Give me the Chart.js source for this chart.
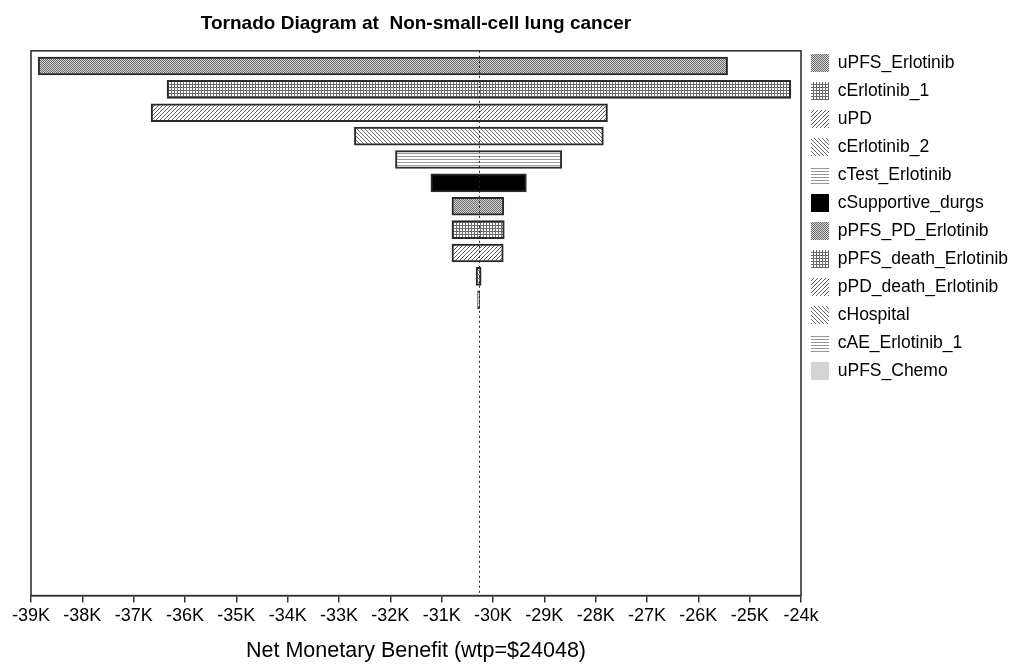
<!DOCTYPE html>
<html>
<head>
<meta charset="utf-8">
<script src="https://cdn.jsdelivr.net/npm/chart.js@4"></script>
<style>
html,body{margin:0;padding:0;background:#fff;}
#wrap{width:1012px;height:664px;}
</style>
</head>
<body>
<div id="wrap"><canvas id="c" width="1012" height="664"></canvas></div>
<script>
// ---- data ----
const categories = ['uPFS_Erlotinib','cErlotinib_1','uPD','cErlotinib_2','cTest_Erlotinib','cSupportive_durgs','pPFS_PD_Erlotinib','pPFS_death_Erlotinib','pPD_death_Erlotinib','cHospital','cAE_Erlotinib_1','uPFS_Chemo'];
const lowValues  = [-38860,-36350,-36660,-32700,-31900,-31210,-30800,-30800,-30800,-30330,-30300,-30280];
const highValues = [-25430,-24200,-27770,-27850,-28660,-29350,-29790,-29780,-29800,-30230,-30262,-30280];
const baseValue = -30280;
const xTickLabels = ['-39K','-38K','-37K','-36K','-35K','-34K','-33K','-32K','-31K','-30K','-29K','-28K','-27K','-26K','-25K','-24k'];
const titleText = 'Tornado Diagram at  Non-small-cell lung cancer';
const xTitleText = 'Net Monetary Benefit (wtp=$24048)';
const patternKinds = ['dots','grid','diagR','diagL','horiz','solidBlack','dots','grid','diagR','diagL','horiz','solidGray'];

// ---- patterns ----
const baseCtx = document.getElementById('c').getContext('2d');
function makePattern(kind){
  if(kind==='solidBlack') return '#000';
  if(kind==='solidGray') return '#d4d4d4';
  const s = (kind==='dots') ? 2 : (kind==='grid' || kind==='horiz') ? 3 : 4;
  const t = document.createElement('canvas');
  t.width = s; t.height = s;
  const g = t.getContext('2d');
  g.fillStyle = '#fff'; g.fillRect(0,0,s,s);
  if(kind==='dots'){
    g.fillStyle='#d6d6d6'; g.fillRect(0,0,s,s);
    g.fillStyle='#6a6a6a';
    g.fillRect(0,0,1,1); g.fillRect(1,1,1,1);
  } else if(kind==='grid'){
    g.fillStyle='#6a6a6a';
    g.fillRect(0,0,s,1); g.fillRect(0,0,1,s);
  } else if(kind==='diagR'){
    g.fillStyle='#5a5a5a';
    for(let i=0;i<s;i++){ g.fillRect(s-1-i,i,1,1); }
  } else if(kind==='diagL'){
    g.fillStyle='#6a6a6a';
    for(let i=0;i<s;i++){ g.fillRect(i,i,1,1); }
  } else if(kind==='horiz'){
    g.fillStyle='#999';
    g.fillRect(0,0,s,1);
  }
  return baseCtx.createPattern(t,'repeat');
}

const datasets = categories.map((name,i)=>({
  label: name,
  data: [{x:[lowValues[i], highValues[i]], y:i}],
  backgroundColor: makePattern(patternKinds[i]),
  borderColor: '#2a2a2a',
  borderWidth: 2,
  borderSkipped: false,
  barThickness: 18,
  grouped: false
}));

const framePlugin = {
  id:'frame',
  afterDatasetsDraw(chart){
    const {ctx, chartArea:a, scales:{x}} = chart;
    const px = x.getPixelForValue(baseValue);
    ctx.save();
    ctx.strokeStyle='#222'; ctx.lineWidth=1; ctx.setLineDash([2,3]);
    ctx.beginPath(); ctx.moveTo(Math.round(px)+0.5,a.top); ctx.lineTo(Math.round(px)+0.5,a.bottom); ctx.stroke();
    ctx.restore();
  },
  afterDraw(chart){
    const {ctx, chartArea:a} = chart;
    ctx.save();
    ctx.strokeStyle='#333'; ctx.lineWidth=1.6;
    ctx.strokeRect(a.left,a.top,a.right-a.left,a.bottom-a.top);
    ctx.restore();
  }
};

const FONT = "'Liberation Sans', Arial, sans-serif";
new Chart(document.getElementById('c'), {
  type:'bar',
  data:{ datasets },
  options:{
    indexAxis:'y',
    responsive:false,
    animation:false,
    layout:{ padding:{ left:31, right:-6, top:4, bottom:0 } },
    scales:{
      x:{
        type:'linear', min:-39000, max:-24000,
        ticks:{ stepSize:1000, autoSkip:false, maxRotation:0, color:'#000', padding:3,
          font:{ family:FONT, size:18 },
          callback:(v,i)=> xTickLabels[i] },
        grid:{ drawOnChartArea:false, drawTicks:true, tickLength:7, color:'#333', lineWidth:1.5 },
        border:{ color:'#333', width:1.5 },
        title:{ display:true, text:xTitleText, color:'#000', font:{ family:FONT, size:21.5 }, padding:{top:8, bottom:0} }
      },
      y:{ type:'linear', min:-0.65, max:22.66, reverse:true, offset:false, display:false }
    },
    plugins:{
      title:{ display:true, text:titleText, fullSize:false, color:'#000', font:{ family:FONT, size:19, weight:'bold' }, padding:{top:8, bottom:16} },
      legend:{ position:'right', align:'start',
        title:{ display:true, text:' ', font:{ family:FONT, size:10 }, padding:{ top:14, bottom:14 } },
        labels:{ boxWidth:18, boxHeight:18, padding:10, color:'#000', font:{ family:FONT, size:17.5 },
          generateLabels(chart){
            return Chart.defaults.plugins.legend.labels.generateLabels(chart).map(l=>({...l, lineWidth:0}));
          } } },
      tooltip:{ enabled:false }
    }
  },
  plugins:[framePlugin]
});
</script>
</body>
</html>
